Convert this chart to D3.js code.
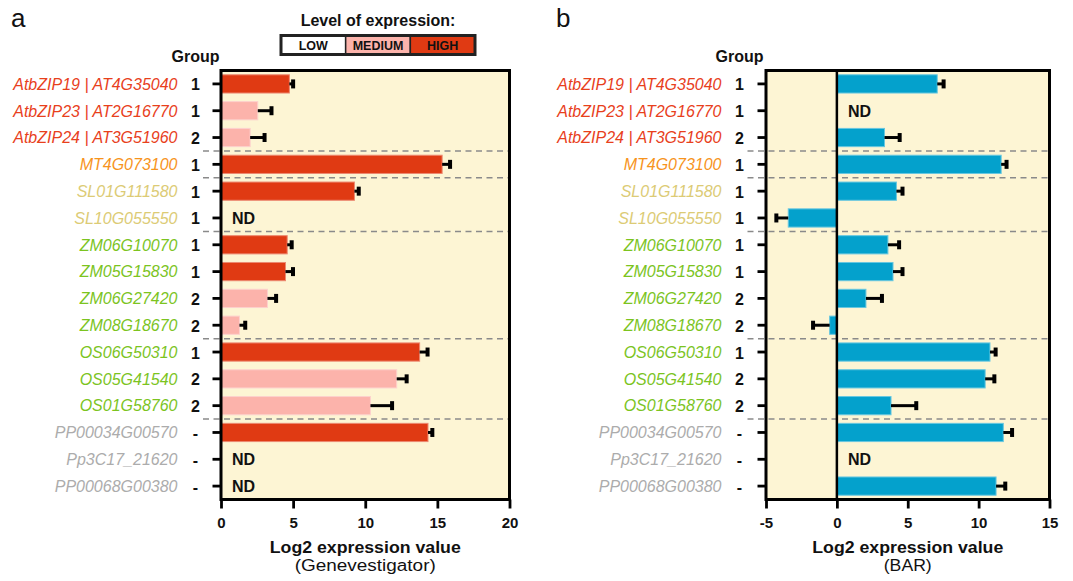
<!DOCTYPE html>
<html>
<head>
<meta charset="utf-8">
<script src="https://cdn.jsdelivr.net/npm/d3@7"></script>
<style>
  html, body { margin: 0; padding: 0; background: #fff; }
  svg { display: block; font-family: "Liberation Sans", Arial, Helvetica, sans-serif; }
</style>
</head>
<body>
<svg id="chart" width="1073" height="581"></svg>
<script>
// ---------------- DATA ----------------
const genes = ["AtbZIP19 | AT4G35040", "AtbZIP23 | AT2G16770", "AtbZIP24 | AT3G51960", "MT4G073100",
  "SL01G111580", "SL10G055550", "ZM06G10070", "ZM05G15830", "ZM06G27420", "ZM08G18670",
  "OS06G50310", "OS05G41540", "OS01G58760", "PP00034G00570", "Pp3C17_21620", "PP00068G00380"];
const groups = ["1", "1", "2", "1", "1", "1", "1", "1", "2", "2", "1", "2", "2", "-", "-", "-"];
const species = ["At", "At", "At", "MT", "SL", "SL", "ZM", "ZM", "ZM", "ZM", "OS", "OS", "OS", "PP", "PP", "PP"];
const speciesColors = { At: "#e8401c", MT: "#f7941d", SL: "#dccb75", ZM: "#7cc41f", OS: "#7cc41f", PP: "#acacac" };

// Panel a: Genevestigator (null = ND)
const gvValues = [4.74, 2.55, 2.02, 15.33, 9.25, null, 4.59, 4.47, 3.22, 1.28, 13.77, 12.18, 10.36, 14.35, null, null];
const gvErrors = [0.26, 0.95, 1.0, 0.55, 0.3, null, 0.31, 0.52, 0.6, 0.4, 0.55, 0.69, 1.5, 0.3, null, null];
const gvLevels = ["HIGH", "MEDIUM", "MEDIUM", "HIGH", "HIGH", null, "HIGH", "HIGH", "MEDIUM", "MEDIUM", "HIGH", "MEDIUM", "MEDIUM", "HIGH", null, null];
const gvTicks = [0, 5, 10, 15, 20];

// Panel b: BAR (null = ND)
const barValues = [7.08, null, 3.36, 11.59, 4.2, -3.43, 3.6, 3.96, 2.05, -0.51, 10.8, 10.46, 3.82, 11.74, null, 11.23];
const barErrors = [0.45, null, 1.07, 0.38, 0.43, 0.84, 0.79, 0.67, 1.13, 1.17, 0.4, 0.65, 1.78, 0.62, null, 0.65];
const barTicks = [-5, 0, 5, 10, 15];

const levelNames = ["LOW", "MEDIUM", "HIGH"];
const levelColors = { LOW: "#ffffff", MEDIUM: "#fcb3ab", HIGH: "#e03a13" };
const barColor = "#04a1cc";

// ---------------- DRAW ----------------
const svg = d3.select("#chart");
const TOP = 70.5, BOTTOM = 499.5;
const BG = "#fdf5d4";

function panel(o) {
  const g = svg.append("g");
  const x = d3.scaleLinear().domain(o.domain).range([o.left, o.right]);
  const y = d3.scaleBand().domain(d3.range(genes.length)).range([TOP, BOTTOM])
    .paddingInner(0.32).paddingOuter(0.16);

  g.append("rect").attr("x", o.left).attr("y", TOP)
    .attr("width", o.right - o.left).attr("height", BOTTOM - TOP).attr("fill", BG);

  // group separators
  species.forEach((s, i) => {
    if (i > 0 && s !== species[i - 1]) {
      const yy = y(i) - y.step() * y.paddingInner() / 2;
      g.append("line").attr("x1", o.dashStart).attr("x2", o.right)
        .attr("y1", yy).attr("y2", yy)
        .attr("stroke", "#8a8a8a").attr("stroke-width", 1.5).attr("stroke-dasharray", "6,4.5");
    }
  });

  // bars
  o.values.forEach((v, i) => {
    if (v === null) {
      g.append("text").attr("x", x(0) + 11).attr("y", y(i) + y.bandwidth() / 2 + 5.8)
        .attr("font-size", 16).attr("font-weight", "bold").attr("fill", "#111").text("ND");
      return;
    }
    const fill = o.fills[i];
    g.append("rect")
      .attr("x", x(Math.min(0, v))).attr("y", y(i))
      .attr("width", Math.abs(x(v) - x(0))).attr("height", y.bandwidth())
      .attr("fill", fill)
      .attr("stroke", d3.interpolateRgb(fill, "#ffffff")(0.4)).attr("stroke-width", 1);
    const e = o.errors[i];
    const end = v >= 0 ? v + e : v - e;
    const yc = y(i) + y.bandwidth() / 2;
    g.append("line").attr("x1", x(v)).attr("x2", x(end)).attr("y1", yc).attr("y2", yc)
      .attr("stroke", "#000").attr("stroke-width", 3);
    g.append("line").attr("x1", x(end)).attr("x2", x(end)).attr("y1", yc - 4.5).attr("y2", yc + 4.5)
      .attr("stroke", "#000").attr("stroke-width", 4);
  });

  // zero line
  if (o.domain[0] < 0) {
    g.append("line").attr("x1", x(0)).attr("x2", x(0)).attr("y1", TOP).attr("y2", BOTTOM)
      .attr("stroke", "#000").attr("stroke-width", 2.5);
  }

  // frame
  g.append("rect").attr("x", o.left).attr("y", TOP)
    .attr("width", o.right - o.left).attr("height", BOTTOM - TOP)
    .attr("fill", "none").attr("stroke", "#000").attr("stroke-width", 3);

  // y ticks
  const ya = g.append("g").attr("transform", `translate(${o.left},0)`)
    .call(d3.axisLeft(y).tickSize(8.5).tickFormat(""));
  ya.select(".domain").remove();
  ya.selectAll(".tick line").attr("stroke", "#000").attr("stroke-width", 2.8);

  // gene labels and group numbers
  genes.forEach((name, i) => {
    const yc = y(i) + y.bandwidth() / 2;
    g.append("text").attr("x", o.labelRight).attr("y", yc + 5.8)
      .attr("text-anchor", "end").attr("font-size", 16).attr("font-style", "italic")
      .attr("fill", speciesColors[species[i]]).text(name);
    g.append("text").attr("x", o.groupX).attr("y", yc + 6.5)
      .attr("text-anchor", "middle").attr("font-size", 16).attr("font-weight", "bold")
      .attr("fill", "#111").text(groups[i]);
  });
  g.append("text").attr("x", o.groupX).attr("y", 62).attr("text-anchor", "middle")
    .attr("font-size", 16).attr("font-weight", "bold").attr("fill", "#111").text("Group");

  // x axis
  const xa = g.append("g").attr("transform", `translate(0,${BOTTOM})`)
    .call(d3.axisBottom(x).tickValues(o.ticks).tickSize(9).tickPadding(9).tickFormat(d => String(d)));
  xa.select(".domain").remove();
  xa.selectAll(".tick line").attr("stroke", "#000").attr("stroke-width", 2.8);
  xa.selectAll(".tick text").attr("font-size", 15).attr("font-weight", "bold")
    .attr("fill", "#111").attr("font-family", "'Liberation Sans', Arial, sans-serif");

  const cx = (o.left + o.right) / 2;
  g.append("text").attr("x", cx).attr("y", 553).attr("text-anchor", "middle")
    .attr("font-size", 17).attr("font-weight", "bold").attr("fill", "#111")
    .attr("textLength", 191).attr("lengthAdjust", "spacingAndGlyphs")
    .text("Log2 expression value");
  g.append("text").attr("x", cx).attr("y", 571).attr("text-anchor", "middle")
    .attr("font-size", 16).attr("fill", "#111")
    .attr("textLength", o.subtitleWidth).attr("lengthAdjust", "spacingAndGlyphs")
    .text(o.subtitle);

  // panel letter
  g.append("text").attr("x", o.letterX).attr("y", 27).attr("font-size", 26)
    .attr("fill", "#111").text(o.letter);
}

panel({
  left: 221, right: 509.5, domain: [0, 20], ticks: gvTicks,
  values: gvValues, errors: gvErrors, fills: gvLevels.map(l => l ? levelColors[l] : null),
  labelRight: 177.5, groupX: 195.5, dashStart: 203, subtitle: "(Genevestigator)", subtitleWidth: 141,
  letter: "a", letterX: 11
});

panel({
  left: 766, right: 1049.5, domain: [-5, 15], ticks: barTicks,
  values: barValues, errors: barErrors, fills: barValues.map(() => barColor),
  labelRight: 721.5, groupX: 739.5, dashStart: 747.5, subtitle: "(BAR)", subtitleWidth: 48,
  letter: "b", letterX: 556
});

// legend
const lg = svg.append("g");
lg.append("text").attr("x", 378).attr("y", 26).attr("text-anchor", "middle")
  .attr("font-size", 16).attr("font-weight", "bold").attr("fill", "#111").text("Level of expression:");
const lx = d3.scaleBand().domain(levelNames).range([281, 475]);
levelNames.forEach(n => {
  lg.append("rect").attr("x", lx(n)).attr("y", 35.5).attr("width", lx.bandwidth()).attr("height", 19)
    .attr("fill", levelColors[n]).attr("stroke", "#222").attr("stroke-width", 1.5);
  lg.append("text").attr("x", lx(n) + lx.bandwidth() / 2).attr("y", 49.5).attr("text-anchor", "middle")
    .attr("font-size", 12.5).attr("font-weight", "bold").attr("fill", "#111").text(n);
});
lg.append("rect").attr("x", 281).attr("y", 35.5).attr("width", 194).attr("height", 19)
  .attr("fill", "none").attr("stroke", "#222").attr("stroke-width", 3);
</script>
</body>
</html>
